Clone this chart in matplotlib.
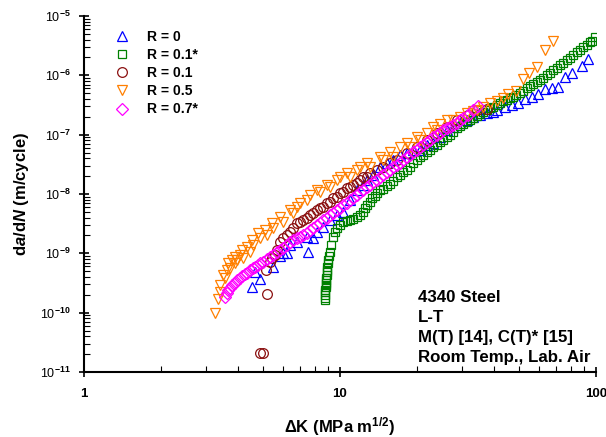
import matplotlib
matplotlib.use("Agg")
import matplotlib.pyplot as plt
from matplotlib.ticker import LogLocator, FixedLocator, NullFormatter

plt.rcParams['font.family'] = ['Liberation Sans', 'DejaVu Sans']
plt.rcParams['mathtext.fontset'] = 'custom'
plt.rcParams['mathtext.rm'] = 'Liberation Sans'
plt.rcParams['mathtext.bf'] = 'Liberation Sans:bold'
plt.rcParams['mathtext.it'] = 'Liberation Sans:italic'
plt.rcParams['mathtext.bfit'] = 'Liberation Sans:italic:bold'
plt.rcParams['mathtext.default'] = 'bf'

# ---------------- data ----------------
# R = 0 (M(T))
dk_r0 = [4.55, 4.67, 4.89, 5.49, 5.85, 6.01, 6.23, 6.40, 6.81, 7.45, 7.52, 7.87, 8.15,
         8.61, 9.16, 9.76, 10.3, 11.0, 11.7, 12.3, 12.8, 13.5, 14.4, 15.3, 16.1, 17.2,
         18.3, 19.3, 20.6, 21.9, 23.1, 24.6, 26.2, 27.7, 29.5, 31.4, 33.1, 35.3, 37.6,
         39.7, 41.1, 44.2, 47.1, 49.7, 52.9, 56.3, 59.4, 63.3, 67.4, 71.1, 75.7, 80.7,
         88.3, 93.1]
da_r0 = [2.70e-10, 4.84e-10, 3.69e-10, 5.88e-10, 9.01e-10, 1.01e-9, 1.01e-9, 1.38e-9,
         1.55e-9, 1.88e-9, 1.05e-9, 1.81e-9, 2.29e-9, 2.78e-9, 3.65e-9, 4.42e-9, 4.97e-9,
         7.92e-9, 1.17e-8, 1.42e-8, 1.72e-8, 2.09e-8, 2.85e-8, 3.33e-8, 3.74e-8, 4.54e-8,
         4.91e-8, 5.51e-8, 5.51e-8, 6.70e-8, 7.23e-8, 9.14e-8, 1.20e-7, 1.35e-7, 1.57e-7,
         1.77e-7, 1.98e-7, 2.14e-7, 2.32e-7, 2.41e-7, 2.60e-7, 2.92e-7, 3.16e-7, 3.42e-7,
         3.99e-7, 4.31e-7, 4.85e-7, 5.88e-7, 6.11e-7, 6.36e-7, 9.38e-7, 1.09e-6, 1.44e-6,
         1.88e-6]

# R = 0.1* (C(T))
dk_r01c = [8.76, 8.76, 8.76, 8.76, 8.76, 8.84, 8.84, 8.84, 8.84, 8.84, 8.92, 8.92, 8.92,
           8.92, 9.00, 9.00, 9.08, 9.16, 9.25, 9.41, 9.59, 9.76, 10.03, 10.3, 10.7, 11.0,
           11.3, 11.7, 12.0, 12.3, 12.6, 12.8, 13.1, 13.4, 13.7, 14.0, 14.4, 14.8, 15.3,
           15.7, 16.1, 16.7, 17.2, 17.7, 18.3, 18.8, 19.3, 20.0, 20.6, 21.1, 21.9, 22.5,
           23.1, 24.0, 24.6, 25.3, 26.2, 26.9, 27.7, 28.7, 29.5, 30.3, 31.4, 32.3, 33.1,
           34.4, 35.3, 36.3, 37.6, 38.6, 39.7, 41.1, 42.2, 43.4, 45.0, 46.2, 47.5, 48.8,
           50.6, 51.9, 53.8, 55.3, 56.8, 58.9, 60.5, 62.1, 64.4, 66.2, 68.0, 70.5, 72.4,
           74.4, 77.1, 79.2, 81.4, 84.4, 86.7, 89.0, 92.3, 94.8, 96.6, 99.2]
da_r01c = [1.63e-10, 1.77e-10, 1.98e-10, 2.23e-10, 2.41e-10, 2.70e-10, 2.92e-10, 3.16e-10,
           3.55e-10, 3.84e-10, 4.31e-10, 4.84e-10, 5.24e-10, 5.88e-10, 6.87e-10, 7.71e-10,
           9.01e-10, 1.05e-9, 1.38e-9, 1.88e-9, 2.29e-9, 2.67e-9, 3.00e-9, 3.37e-9, 3.51e-9,
           3.65e-9, 3.79e-9, 4.09e-9, 4.42e-9, 4.97e-9, 5.81e-9, 6.52e-9, 7.33e-9, 8.56e-9,
           9.25e-9, 1.04e-8, 1.17e-8, 1.22e-8, 1.36e-8, 1.47e-8, 1.66e-8, 1.93e-8, 2.09e-8,
           2.35e-8, 2.54e-8, 2.85e-8, 3.33e-8, 3.74e-8, 4.20e-8, 4.54e-8, 5.10e-8, 5.51e-8,
           6.19e-8, 6.70e-8, 7.52e-8, 8.13e-8, 9.14e-8, 9.87e-8, 1.11e-7, 1.30e-7, 1.40e-7,
           1.51e-7, 1.63e-7, 1.77e-7, 1.91e-7, 2.06e-7, 2.23e-7, 2.41e-7, 2.60e-7, 2.81e-7,
           2.92e-7, 3.16e-7, 3.42e-7, 3.69e-7, 3.84e-7, 4.15e-7, 4.31e-7, 4.66e-7, 5.04e-7,
           5.44e-7, 6.11e-7, 6.61e-7, 7.14e-7, 7.72e-7, 8.34e-7, 9.02e-7, 1.01e-6, 1.09e-6,
           1.23e-6, 1.33e-6, 1.49e-6, 1.62e-6, 1.81e-6, 1.96e-6, 2.20e-6, 2.47e-6, 2.67e-6,
           3.01e-6, 3.25e-6, 3.65e-6, 3.79e-6, 4.43e-6]

# R = 0.1 (M(T))
dk_r01 = [4.89, 5.02, 5.20, 5.15, 5.35, 5.44, 5.59, 5.69, 5.85, 6.01, 6.23, 6.40, 6.57,
          6.81, 7.00, 7.19, 7.45, 7.66, 7.87, 8.15, 8.38, 8.61, 8.92, 9.16, 9.41, 9.76,
          10.03, 10.3, 10.7, 11.0, 11.3, 11.7, 12.0, 12.3, 12.8, 13.1, 14.0, 14.8, 15.7,
          16.7, 18.3, 20.0, 21.9, 24.0, 26.2, 28.7, 31.7, 34.4, 37.6]
da_r01 = [2.09e-11, 2.09e-11, 2.06e-10, 5.24e-10, 7.14e-10, 8.34e-10, 9.37e-10, 1.14e-9,
          1.55e-9, 1.81e-9, 2.04e-9, 2.29e-9, 2.67e-9, 3.24e-9, 3.37e-9, 3.65e-9, 3.94e-9,
          4.42e-9, 4.78e-9, 5.37e-9, 5.81e-9, 6.04e-9, 7.05e-9, 7.33e-9, 8.56e-9, 8.90e-9,
          1.04e-8, 1.08e-8, 1.26e-8, 1.31e-8, 1.42e-8, 1.53e-8, 1.72e-8, 1.93e-8, 1.93e-8,
          2.26e-8, 2.54e-8, 2.85e-8, 3.33e-8, 3.74e-8, 4.91e-8, 6.19e-8, 8.13e-8, 1.07e-7,
          1.35e-7, 1.77e-7, 2.14e-7, 2.60e-7, 2.71e-7]

# R = 0.5 (M(T))
dk_r05 = [3.26, 3.35, 3.41, 3.41, 3.50, 3.57, 3.63, 3.66, 3.73, 3.80, 3.90, 3.90, 3.97,
          4.08, 4.16, 4.19, 4.35, 4.47, 4.55, 4.59, 4.80, 4.89, 5.11, 5.20, 5.44, 5.49,
          5.85, 6.01, 6.40, 6.57, 6.81, 7.00, 7.45, 7.66, 8.15, 8.38, 8.92, 9.16, 9.76,
          10.03, 10.7, 11.0, 11.7, 12.0, 12.8, 13.1, 14.4, 14.8, 15.7, 16.1, 17.2, 18.3,
          18.8, 20.0, 20.6, 21.9, 23.1, 24.0, 24.6, 26.2, 27.7, 29.5, 31.4, 33.1, 34.4,
          36.3, 38.6, 41.1, 43.4, 45.4, 48.8, 51.9, 54.8, 58.9, 63.3, 68.0]
da_r05 = [9.9e-11, 1.70e-10, 2.23e-10, 2.92e-10, 4.31e-10, 3.84e-10, 5.24e-10, 6.87e-10,
          5.66e-10, 7.71e-10, 6.87e-10, 8.67e-10, 7.71e-10, 9.37e-10, 1.14e-9, 8.34e-10,
          1.28e-9, 1.05e-9, 1.68e-9, 1.38e-9, 2.20e-9, 1.81e-9, 2.47e-9, 2.04e-9, 3.24e-9,
          2.67e-9, 4.09e-9, 3.37e-9, 5.37e-9, 4.78e-9, 6.04e-9, 7.05e-9, 7.92e-9, 9.62e-9,
          1.17e-8, 1.08e-8, 1.42e-8, 1.31e-8, 1.72e-8, 1.93e-8, 2.26e-8, 1.93e-8, 2.54e-8,
          2.85e-8, 3.33e-8, 2.85e-8, 4.20e-8, 3.74e-8, 5.10e-8, 4.20e-8, 6.19e-8, 7.23e-8,
          6.19e-8, 9.14e-8, 8.13e-8, 1.07e-7, 1.35e-7, 1.20e-7, 1.51e-7, 1.77e-7, 1.77e-7,
          1.98e-7, 2.32e-7, 2.50e-7, 2.60e-7, 2.92e-7, 3.42e-7, 3.69e-7, 4.15e-7, 4.85e-7,
          5.44e-7, 8.67e-7, 1.09e-6, 1.38e-6, 2.67e-6, 3.79e-6]

# R = 0.7* (C(T))
dk_r07c = [3.57, 3.63, 3.66, 3.73, 3.80, 3.90, 3.97, 4.08, 4.16, 4.27, 4.35, 4.47, 4.59,
           4.67, 4.80, 4.89, 5.02, 5.20, 5.35, 5.49, 5.69, 5.85, 6.01, 6.23, 6.40, 6.57,
           6.81, 7.00, 7.19, 7.45, 7.66, 7.87, 8.15, 8.38, 8.61, 8.92, 9.16, 9.41, 9.76,
           10.03, 10.3, 10.7, 11.0, 11.3, 11.7, 12.0, 12.3, 12.8, 13.1, 13.5, 14.0, 14.4,
           14.8, 15.3, 15.7, 16.1, 16.7, 17.2, 17.7, 18.3, 18.8, 19.3, 20.0, 20.6, 21.1,
           21.9, 22.5, 23.1, 24.0, 24.6, 25.3, 26.2, 26.9, 27.7, 28.7, 29.5, 30.3, 31.7,
           33.1, 34.7]
da_r07c = [1.84e-10, 2.14e-10, 2.41e-10, 2.60e-10, 2.92e-10, 3.16e-10, 3.55e-10, 3.84e-10,
           4.15e-10, 4.48e-10, 4.66e-10, 5.24e-10, 5.66e-10, 5.88e-10, 6.36e-10, 6.87e-10,
           7.14e-10, 8.02e-10, 8.67e-10, 9.37e-10, 1.05e-9, 1.14e-9, 1.23e-9, 1.38e-9,
           1.55e-9, 1.68e-9, 1.81e-9, 1.88e-9, 2.04e-9, 2.20e-9, 2.47e-9, 2.67e-9, 3.00e-9,
           3.24e-9, 3.65e-9, 3.94e-9, 4.42e-9, 4.78e-9, 5.37e-9, 5.81e-9, 6.52e-9, 7.05e-9,
           7.92e-9, 8.56e-9, 9.62e-9, 1.08e-8, 1.17e-8, 1.31e-8, 1.42e-8, 1.59e-8, 1.72e-8,
           1.93e-8, 2.09e-8, 2.35e-8, 2.54e-8, 2.85e-8, 3.08e-8, 3.33e-8, 3.74e-8, 4.20e-8,
           4.54e-8, 5.10e-8, 5.51e-8, 6.19e-8, 6.70e-8, 7.52e-8, 8.13e-8, 9.14e-8, 9.87e-8,
           1.07e-7, 1.20e-7, 1.30e-7, 1.35e-7, 1.46e-7, 1.57e-7, 1.77e-7, 1.91e-7, 2.14e-7,
           2.60e-7, 3.04e-7]

series_labels = ['R = 0', 'R = 0.1*', 'R = 0.1', 'R = 0.5', 'R = 0.7*']
series_colors = ['#0000FF', '#008000', '#8B1010', '#FF7F00', '#FF00FF']
series_markers = ['^', 's', 'o', 'v', 'D']

x_ticks = [1, 10, 100]
x_ticklabels = ['1', '10', '100']
y_ticks = [1e-11, 1e-10, 1e-9, 1e-8, 1e-7, 1e-6, 1e-5]
y_ticklabels = ['10$^{-11}$', '10$^{-10}$', '10$^{-9}$', '10$^{-8}$', '10$^{-7}$',
                '10$^{-6}$', '10$^{-5}$']

note_lines = ['4340 Steel', 'L-T', 'M(T) [14], C(T)* [15]', 'Room Temp., Lab. Air']

# ---------------- figure ----------------
fig = plt.figure(figsize=(6.06, 4.37), dpi=100)
ax = fig.add_axes([83.5 / 606, 1 - 372 / 437, (596 - 83.5) / 606, (372 - 16) / 437])

xs = [dk_r0, dk_r01c, dk_r01, dk_r05, dk_r07c]
ys = [da_r0, da_r01c, da_r01, da_r05, da_r07c]
sizes = [7.2, 6.3, 7.0, 7.2, 6.2]
for x, y, lab, c, m, ms in zip(xs, ys, series_labels, series_colors, series_markers, sizes):
    ax.plot(x, y, linestyle='none', marker=m, ms=ms, mfc='none', mec=c, mew=0.9, label=lab)

ax.set_xscale('log')
ax.set_yscale('log')
ax.set_xlim(1, 100)
ax.set_ylim(1e-11, 1e-5)

for s in ['top', 'right']:
    ax.spines[s].set_visible(False)
for s in ['left', 'bottom']:
    ax.spines[s].set_linewidth(1.5)

ax.xaxis.set_major_locator(FixedLocator(x_ticks))
ax.set_xticklabels(x_ticklabels, fontweight='bold', fontsize=9.5)
ax.yaxis.set_major_locator(FixedLocator(y_ticks))
ax.set_yticklabels(y_ticklabels, fontsize=9)
ax.xaxis.set_minor_locator(LogLocator(base=10, subs=range(2, 10), numticks=20))
ax.yaxis.set_minor_locator(LogLocator(base=10, subs=range(2, 10), numticks=20))
ax.xaxis.set_minor_formatter(NullFormatter())
ax.yaxis.set_minor_formatter(NullFormatter())
ax.tick_params(axis='both', which='major', direction='inout', length=7, width=1.2, pad=6)
ax.tick_params(axis='both', which='minor', direction='in', length=4, width=0.8)
ax.tick_params(axis='x', which='major', pad=8)

ax.set_xlabel(r'ΔK (MPa m$^{\mathbf{1/2}}$)', fontsize=12, fontweight='bold', labelpad=11)
ax.set_ylabel(r'd$\mathbfit{a}$/d$\mathbfit{N}$ (m/cycle)', fontsize=12,
              fontweight='bold', labelpad=6)

leg = ax.legend(loc='upper left', bbox_to_anchor=(0.05, 0.977), frameon=False,
                prop={'weight': 'bold', 'size': 10}, handletextpad=1.3,
                labelspacing=0.3, borderaxespad=0, handlelength=1.0)

for i, line in enumerate(note_lines):
    fig.text(418 / 606, 1 - (302 + 20 * i) / 437, line, fontsize=12.2,
             fontweight='bold', va='baseline', ha='left')

fig.savefig('out.png', dpi=100)
